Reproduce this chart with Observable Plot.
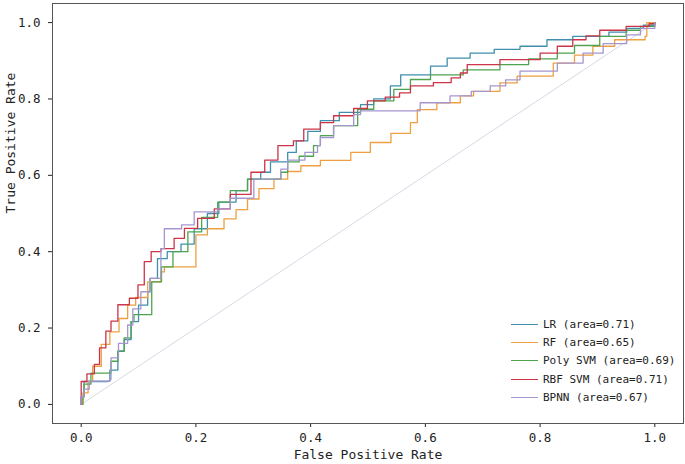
<!DOCTYPE html>
<html><head><meta charset="utf-8">
<script src="https://cdn.jsdelivr.net/npm/d3@7"></script>
<script src="https://cdn.jsdelivr.net/npm/@observablehq/plot@0.6"></script>
<style>
body{margin:0;background:#fff;}
#wrap{position:relative;width:685px;height:464px;}
#legend{position:absolute;left:511px;top:315px;font-family:"DejaVu Sans Mono",monospace;font-size:11px;color:#222;}
.row{display:flex;align-items:center;height:18.3px;white-space:pre;}
.sw{width:27px;height:0;border-top:1.4px solid;margin-right:5px;}
</style></head><body><div id="wrap"></div>
<script>
const models = ["LR", "RF", "Poly SVM", "RBF SVM", "BPNN"];
const aucs = [0.71, 0.65, 0.69, 0.71, 0.67];
const colors = ["#3f8fae", "#eea040", "#4ea44e", "#cc3448", "#a596d0"];
const xTicks = [0, 0.2, 0.4, 0.6, 0.8, 1.0];
const yTicks = [0, 0.2, 0.4, 0.6, 0.8, 1.0];
const diagFpr = [0, 1];
const diagTpr = [0, 1];

const lrPts = [[0,0],[0,0.02],[0.005,0.06],[0.046,0.061],[0.05,0.09],[0.064,0.139],[0.075,0.17],[0.087,0.217],[0.1,0.26],[0.116,0.295],[0.12,0.33],[0.133,0.382],[0.15,0.40],[0.174,0.42],[0.197,0.46],[0.22,0.50],[0.24,0.53],[0.27,0.56],[0.29,0.59],[0.313,0.608],[0.33,0.635],[0.36,0.66],[0.375,0.69],[0.395,0.715],[0.417,0.743],[0.45,0.765],[0.487,0.785],[0.51,0.80],[0.539,0.834],[0.557,0.863],[0.609,0.886],[0.638,0.907],[0.678,0.92],[0.72,0.93],[0.765,0.938],[0.812,0.955],[0.857,0.964],[0.92,0.975],[0.951,0.985],[0.98,0.993],[1,1]];
const rfPts = [[0,0],[0.003,0.03],[0.012,0.061],[0.02,0.10],[0.035,0.157],[0.05,0.19],[0.066,0.225],[0.081,0.26],[0.095,0.28],[0.116,0.321],[0.139,0.347],[0.145,0.36],[0.2,0.444],[0.22,0.46],[0.249,0.486],[0.27,0.51],[0.29,0.538],[0.31,0.565],[0.336,0.59],[0.36,0.61],[0.383,0.625],[0.417,0.639],[0.452,0.639],[0.47,0.66],[0.504,0.686],[0.54,0.71],[0.574,0.738],[0.586,0.772],[0.62,0.79],[0.661,0.808],[0.684,0.82],[0.73,0.842],[0.76,0.86],[0.823,0.894],[0.86,0.915],[0.892,0.938],[0.93,0.955],[0.983,0.964],[0.986,1],[1,1]];
const polyPts = [[0,0],[0.003,0.02],[0.005,0.053],[0.017,0.082],[0.046,0.082],[0.052,0.113],[0.064,0.14],[0.075,0.174],[0.087,0.217],[0.092,0.235],[0.122,0.235],[0.123,0.321],[0.14,0.36],[0.16,0.40],[0.186,0.452],[0.21,0.49],[0.238,0.53],[0.26,0.56],[0.29,0.59],[0.348,0.608],[0.36,0.635],[0.38,0.65],[0.405,0.678],[0.417,0.704],[0.44,0.73],[0.482,0.773],[0.51,0.795],[0.545,0.825],[0.574,0.851],[0.609,0.863],[0.666,0.876],[0.73,0.89],[0.78,0.905],[0.83,0.92],[0.86,0.94],[0.904,0.964],[0.95,0.98],[0.975,0.99],[1,1]];
const rbfPts = [[0,0],[0,0.06],[0.01,0.08],[0.023,0.105],[0.032,0.148],[0.043,0.192],[0.052,0.218],[0.064,0.261],[0.084,0.278],[0.099,0.313],[0.110,0.374],[0.122,0.40],[0.139,0.408],[0.162,0.435],[0.180,0.461],[0.203,0.487],[0.232,0.512],[0.26,0.55],[0.296,0.608],[0.32,0.64],[0.343,0.678],[0.37,0.69],[0.388,0.721],[0.417,0.738],[0.44,0.756],[0.475,0.775],[0.499,0.795],[0.53,0.805],[0.555,0.816],[0.574,0.834],[0.614,0.843],[0.645,0.855],[0.661,0.868],[0.673,0.89],[0.73,0.903],[0.8,0.92],[0.83,0.938],[0.857,0.955],[0.88,0.965],[0.904,0.98],[0.95,0.99],[0.99,0.997],[1,1]];
const bpnnPts = [[0,0],[0,0.02],[0.005,0.04],[0.014,0.061],[0.05,0.065],[0.052,0.122],[0.065,0.16],[0.081,0.208],[0.09,0.25],[0.104,0.295],[0.12,0.33],[0.139,0.408],[0.145,0.46],[0.175,0.47],[0.197,0.504],[0.238,0.512],[0.26,0.54],[0.301,0.59],[0.348,0.616],[0.36,0.64],[0.39,0.66],[0.412,0.678],[0.417,0.699],[0.44,0.73],[0.475,0.759],[0.487,0.769],[0.586,0.769],[0.591,0.79],[0.643,0.808],[0.68,0.82],[0.713,0.834],[0.74,0.85],[0.765,0.873],[0.83,0.894],[0.875,0.92],[0.91,0.945],[0.951,0.968],[0.975,0.985],[1,1]];

const curves = [lrPts, rfPts, polyPts, rbfPts, bpnnPts];
const diag = diagFpr.map((f, i) => ({fpr: f, tpr: diagTpr[i]}));

const font = "'DejaVu Sans Mono', monospace";
const lineMarks = curves.map((pts, i) =>
  Plot.line(pts.map(([f, t]) => ({fpr: f, tpr: t})), {x: "fpr", y: "tpr", stroke: colors[i], strokeWidth: 1.3, curve: "step-after"})
);

const chart = Plot.plot({
  width: 685, height: 464,
  marginLeft: 52, marginRight: 2, marginTop: 3, marginBottom: 41,
  style: {fontFamily: font, fontSize: "12.5px", color: "#222", background: "#fff"},
  x: {domain: [-0.05, 1.05], ticks: xTicks, tickFormat: d => d.toFixed(1), tickSize: 4, tickPadding: 6, label: null},
  y: {domain: [-0.05, 1.05], ticks: yTicks, tickFormat: d => d.toFixed(1), tickSize: 4, tickPadding: 8, label: null},
  marks: [
    Plot.line(diag, {x: "fpr", y: "tpr", stroke: "#d4d9e4", strokeWidth: 1}),
    ...lineMarks,
    Plot.frame({stroke: "#555", strokeWidth: 1}),
    Plot.text(["False Positive Rate"], {text: d => d, frameAnchor: "bottom", dy: 35, fontSize: 13, fill: "#222"}),
    Plot.text(["True Positive Rate"], {text: d => d, frameAnchor: "left", dx: -42, rotate: -90, fontSize: 13, fill: "#222"})
  ]
});
const wrap = document.getElementById("wrap");
wrap.appendChild(chart);

const legend = document.createElement("div");
legend.id = "legend";
models.forEach((m, i) => {
  const row = document.createElement("div");
  row.className = "row";
  const sw = document.createElement("span");
  sw.className = "sw";
  sw.style.borderTopColor = colors[i];
  const tx = document.createElement("span");
  tx.textContent = `${m} (area=${aucs[i].toFixed(2)})`;
  row.appendChild(sw); row.appendChild(tx);
  legend.appendChild(row);
});
wrap.appendChild(legend);
</script></body></html>
